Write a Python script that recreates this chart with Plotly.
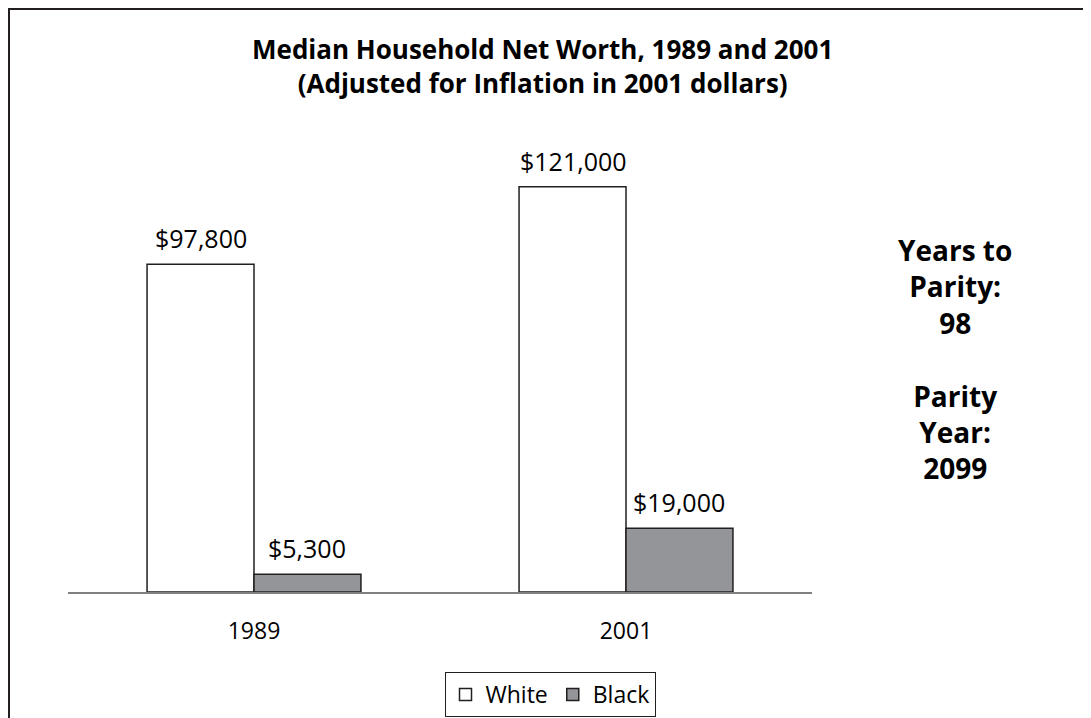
import plotly.graph_objects as go

categories = ["1989", "2001"]
white_values = [97800, 121000]
black_values = [5300, 19000]
series_names = ["White", "Black"]
title_lines = ["Median Household Net Worth, 1989 and 2001", "(Adjusted for Inflation in 2001 dollars)"]
side_note = "Years to<br>Parity:<br>98<br><br>Parity<br>Year:<br>2099"

FONT = "'Open Sans', Lato, 'DejaVu Sans', sans-serif"
OUTLINE = "#231f20"

W, H = 1083, 710
# plot-area geometry (pixels) used to convert positions to paper coords
PL, PR, PT, PB = 60, 804, 115, 584
PW, PH = PR - PL, PB - PT


def px(x):
    return (x - PL) / PW


def py(y):
    return (PB - y) / PH


fig = go.Figure()
fig.add_trace(go.Bar(
    x=categories, y=white_values, name=series_names[0],
    marker=dict(color="white", line=dict(color=OUTLINE, width=1.5)),
))
fig.add_trace(go.Bar(
    x=categories, y=black_values, name=series_names[1],
    marker=dict(color="#939598", line=dict(color=OUTLINE, width=1.5)),
))

# value labels above bars (category axis -> serial index positions)
for vals, shift in [(white_values, -53), (black_values, 53)]:
    for i, v in enumerate(vals):
        fig.add_annotation(
            x=i, y=v, text=f"${v:,}", showarrow=False,
            xshift=shift, yshift=7, yanchor="bottom",
            font=dict(family=FONT, size=25, color="black"),
        )

# title
fig.add_annotation(
    xref="paper", yref="paper", x=px(534), y=py(58),
    text="<br>".join(title_lines), showarrow=False,
    xanchor="center", yanchor="middle", align="center",
    font=dict(family=FONT, size=26, color="black", weight="bold"),
)

fig.add_annotation(
    xref="paper", yref="paper",
    x=px(947), y=py(221),
    text=side_note, showarrow=False, align="center",
    xanchor="center", yanchor="top",
    font=dict(family=FONT, size=28, color="black", weight="bold"),
)

# outer frame
fig.add_shape(
    type="rect", xref="paper", yref="paper",
    x0=px(0), x1=1.6, y0=-0.6, y1=py(0),
    line=dict(color="#231f20", width=4), fillcolor="rgba(0,0,0,0)",
)

fig.update_layout(
    width=W, height=H,
    margin=dict(l=PL, r=W - PR, t=PT, b=H - PB, autoexpand=False),
    paper_bgcolor="white", plot_bgcolor="white",
    barmode="group", bargap=0.425, bargroupgap=0,
    xaxis=dict(
        type="category", range=[-0.5, 1.5], autorange=False,
        showline=True, linecolor="#808080", linewidth=1.5,
        ticks="", showgrid=False, ticklabelstandoff=18,
        tickfont=dict(family=FONT, size=23, color="black"),
    ),
    yaxis=dict(range=[0, 140000], autorange=False, visible=False, showgrid=False),
    showlegend=True,
    legend=dict(
        orientation="h", xref="container", yref="container",
        x=542 / W, xanchor="center", y=1 - 664 / H, yanchor="top",
        bordercolor="#231f20", borderwidth=1, bgcolor="white",
        font=dict(family=FONT, size=23, color="black"),
        itemwidth=30, tracegroupgap=0,
    ),
)

fig.write_html("out.html")
